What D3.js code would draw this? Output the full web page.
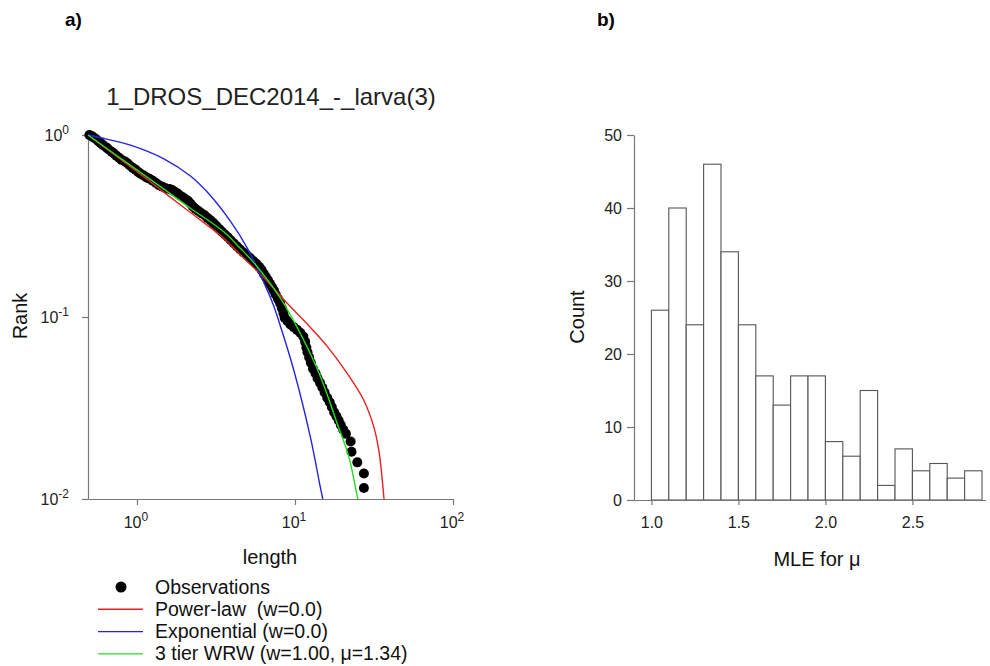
<!DOCTYPE html>
<html>
<head>
<meta charset="utf-8">
<script src="https://cdn.jsdelivr.net/npm/d3@7"></script>
<style>
  body { margin: 0; background: #fff; }
  svg { font-family: "Liberation Sans", Arial, sans-serif; }
</style>
</head>
<body>
<div id="chart"></div>
<script>
// panel a) - observed rank vs length (read off the figure)
const obsLength = [0.50,0.52,0.53,0.55,0.57,0.59,0.61,0.64,0.66,0.69,0.71,0.74,0.77,0.80,0.84,0.87,0.90,0.94,0.98,1.02,1.06,
  1.10,1.15,1.20,1.26,1.32,1.38,1.45,1.52,1.60,1.66,1.72,1.80,1.87,1.95,2.02,2.10,
  2.18,2.26,2.35,2.45,2.56,2.68,2.80,2.92,3.05,3.18,3.32,3.45,3.60,3.76,3.92,4.10,4.30,4.50,4.72,4.95,5.20,5.45,5.70,5.95,
  6.15,6.35,6.55,6.75,6.95,7.15,7.35,7.55,7.80,8.05,8.25,8.45,8.60,8.95,9.35,9.80,10.3,10.8,11.3,11.6,11.8,12.0,12.3,12.6,
  13.0,13.5,13.9,14.4,14.9,15.4,16.0,16.6,17.1,17.7,18.3,18.9,19.5,20.2,21.0,22.5,22.8,24.8,27.3,27.3];
const obsRank = [1.00,0.985,0.97,0.95,0.925,0.90,0.88,0.855,0.835,0.81,0.795,0.77,0.75,0.73,0.715,0.70,0.68,0.66,0.645,0.625,0.61,
  0.60,0.585,0.575,0.56,0.545,0.53,0.52,0.51,0.505,0.50,0.49,0.478,0.465,0.455,0.445,0.435,
  0.42,0.405,0.392,0.382,0.372,0.362,0.35,0.34,0.328,0.316,0.304,0.294,0.284,0.274,0.264,0.254,0.244,0.235,0.226,0.219,0.211,0.203,0.196,0.188,
  0.181,0.173,0.166,0.159,0.152,0.146,0.140,0.133,0.126,0.119,0.112,0.105,0.099,0.095,0.091,0.088,0.085,0.082,0.078,0.073,0.068,0.064,0.060,0.056,
  0.052,0.049,0.046,0.0435,0.041,0.0385,0.036,0.034,0.032,0.030,0.0285,0.027,0.0255,0.024,0.0228,0.0207,0.0182,0.0159,0.0138,0.0115];

const powerLength = [0.49,0.87,1.55,2.18,3.54,4.52,6.05,7.34,8.93,11.9,16.0,21.4,27.2,31.5,33.9,36.6];
const powerRank   = [1.00,0.69,0.47,0.375,0.271,0.219,0.172,0.144,0.119,0.092,0.069,0.049,0.035,0.025,0.0186,0.01];

const expLength = [0.49,0.59,0.91,1.48,2.18,2.85,3.91,4.98,6.35,7.34,8.09,9.83,12.5,14.5,15.0];
const expRank   = [1.00,0.966,0.88,0.74,0.595,0.475,0.335,0.24,0.155,0.115,0.089,0.051,0.022,0.0115,0.01];

const wrwLength = [0.49,0.87,1.55,2.18,3.54,4.52,5.77,8.09,10.8,14.5,18.5,21.9,24.8,25.0];
const wrwRank   = [1.00,0.70,0.49,0.396,0.294,0.238,0.189,0.127,0.0814,0.047,0.026,0.0171,0.0103,0.01];

const xTickExps = [0, 1, 2];
const yTickExps = [0, -1, -2];
const legendLabels = ["Observations", "Power-law  (w=0.0)", "Exponential (w=0.0)", "3 tier WRW (w=1.00, \u03bc=1.34)"];

// panel b) - histogram of MLE for mu
const muBinEdges = [1.0,1.1,1.2,1.3,1.4,1.5,1.6,1.7,1.8,1.9,2.0,2.1,2.2,2.3,2.4,2.5,2.6,2.7,2.8,2.9];
const muCounts   = [26,40,24,46,34,24,17,13,17,17,8,6,15,2,7,4,5,3,4];
const histXTicks = [1.0, 1.5, 2.0, 2.5];
const histYTicks = [0, 10, 20, 30, 40, 50];

const axisColor = "#777";
const lineColors = { power: "#e82020", exp: "#2424e0", wrw: "#22dd22" };

const svg = d3.select("#chart").append("svg")
    .attr("width", 990)
    .attr("height", 666);

// ---------- panel a ----------
var x = d3.scaleLog().domain([0.49, 100]).range([88, 453]);
var y = d3.scaleLog().domain([0.01, 1]).range([499, 135]);

svg.append("text")
    .attr("x", 65).attr("y", 26)
    .attr("font-size", 19).attr("font-weight", "bold")
    .text("a)");

svg.append("text")
    .attr("x", 271).attr("y", 105)
    .attr("text-anchor", "middle")
    .attr("font-size", 24)
    .attr("fill", "#222")
    .text("1_DROS_DEC2014_-_larva(3)");

var gx = svg.append("g")
    .attr("transform", "translate(0,499)")
    .call(d3.axisBottom(x).tickValues(xTickExps.map(e => Math.pow(10, e))).tickFormat("").tickSize(6).tickSizeOuter(0));
var gy = svg.append("g")
    .attr("transform", "translate(88,0)")
    .call(d3.axisLeft(y).tickValues(yTickExps.map(e => Math.pow(10, e))).tickFormat("").tickSize(6).tickSizeOuter(0));
[gx, gy].forEach(g => {
    g.selectAll("path, line").attr("stroke", axisColor).attr("stroke-width", 1.2);
});

// superscript tick labels
xTickExps.forEach(e => {
    var t = svg.append("text")
        .attr("x", x(Math.pow(10, e)) - 1).attr("y", 528)
        .attr("text-anchor", "middle")
        .attr("font-size", 16).attr("fill", "#222");
    t.append("tspan").text("10");
    t.append("tspan").attr("dy", -7).attr("font-size", 12).text(e);
});
yTickExps.forEach(e => {
    var t = svg.append("text")
        .attr("x", 69).attr("y", y(Math.pow(10, e)) + 6)
        .attr("text-anchor", "end")
        .attr("font-size", 16).attr("fill", "#222");
    t.append("tspan").text("10");
    t.append("tspan").attr("dy", -7).attr("font-size", 12).text(e);
});

svg.append("text")
    .attr("x", 270).attr("y", 564)
    .attr("text-anchor", "middle")
    .attr("font-size", 20).attr("fill", "#111")
    .text("length");

svg.append("text")
    .attr("transform", "translate(27,316) rotate(-90)")
    .attr("text-anchor", "middle")
    .attr("font-size", 20).attr("fill", "#111")
    .text("Rank");

// observations
var obs = obsLength.map((d, i) => ({ len: d, rank: obsRank[i] }));
svg.append("g").selectAll("circle")
    .data(obs)
    .enter().append("circle")
    .attr("cx", d => x(d.len))
    .attr("cy", d => y(d.rank))
    .attr("r", 5)
    .attr("fill", "black");

// fitted curves
var fitLine = d3.line()
    .x(d => x(d[0]))
    .y(d => y(d[1]))
    .curve(d3.curveCatmullRom.alpha(0.5));

function drawFit(lens, ranks, color) {
    svg.append("path")
        .datum(lens.map((d, i) => [d, ranks[i]]))
        .attr("d", fitLine)
        .attr("fill", "none")
        .attr("stroke", color)
        .attr("stroke-width", 1.4);
}
drawFit(powerLength, powerRank, lineColors.power);
drawFit(expLength, expRank, lineColors.exp);
drawFit(wrwLength, wrwRank, lineColors.wrw);

// legend
var legend = svg.append("g");
legendLabels.forEach((label, i) => {
    var ly = 587 + i * 22.3;
    if (i == 0) {
        legend.append("circle").attr("cx", 121).attr("cy", ly).attr("r", 5.5).attr("fill", "black");
    } else {
        var c = [lineColors.power, lineColors.exp, lineColors.wrw][i - 1];
        legend.append("line")
            .attr("x1", 98).attr("x2", 143)
            .attr("y1", ly).attr("y2", ly)
            .attr("stroke", c).attr("stroke-width", 1.4);
    }
    legend.append("text")
        .attr("x", 155).attr("y", ly + 6.5)
        .attr("font-size", 19.5).attr("fill", "#111")
        .style("white-space", "pre")
        .text(label);
});

// ---------- panel b ----------
var hx = d3.scaleLinear().domain([0.9, 2.92]).range([634, 985.5]);
var hy = d3.scaleLinear().domain([0, 50]).range([500, 135]);

svg.append("text")
    .attr("x", 597).attr("y", 26)
    .attr("font-size", 19).attr("font-weight", "bold")
    .text("b)");

var bins = muCounts.map((c, i) => ({ x0: muBinEdges[i], x1: muBinEdges[i + 1], count: c }));
svg.append("g").selectAll("rect")
    .data(bins)
    .enter().append("rect")
    .attr("x", d => hx(d.x0))
    .attr("y", d => hy(d.count))
    .attr("width", d => hx(d.x1) - hx(d.x0))
    .attr("height", d => hy(0) - hy(d.count))
    .attr("fill", "white")
    .attr("stroke", "#555")
    .attr("stroke-width", 1.1);

var hgx = svg.append("g")
    .attr("transform", "translate(0,500)")
    .call(d3.axisBottom(hx).tickValues(histXTicks).tickFormat(d3.format(".1f")).tickSize(5).tickSizeOuter(0));
var hgy = svg.append("g")
    .attr("transform", "translate(634,0)")
    .call(d3.axisLeft(hy).tickValues(histYTicks).tickSize(7).tickSizeOuter(0));
[hgx, hgy].forEach(g => {
    g.selectAll("path, line").attr("stroke", axisColor).attr("stroke-width", 1.2);
    g.selectAll("text").attr("font-size", 16).attr("fill", "#222")
        .attr("font-family", "'Liberation Sans', Arial, sans-serif");
});
hgx.selectAll("text").attr("dy", "1.1em").attr("y", 10);
hgy.selectAll("text").attr("x", -12).attr("dy", "0.36em");

svg.append("text")
    .attr("x", 817).attr("y", 566)
    .attr("text-anchor", "middle")
    .attr("font-size", 20).attr("fill", "#111")
    .text("MLE for \u03bc");

svg.append("text")
    .attr("transform", "translate(584,317) rotate(-90)")
    .attr("text-anchor", "middle")
    .attr("font-size", 20).attr("fill", "#111")
    .text("Count");
</script>
</body>
</html>
